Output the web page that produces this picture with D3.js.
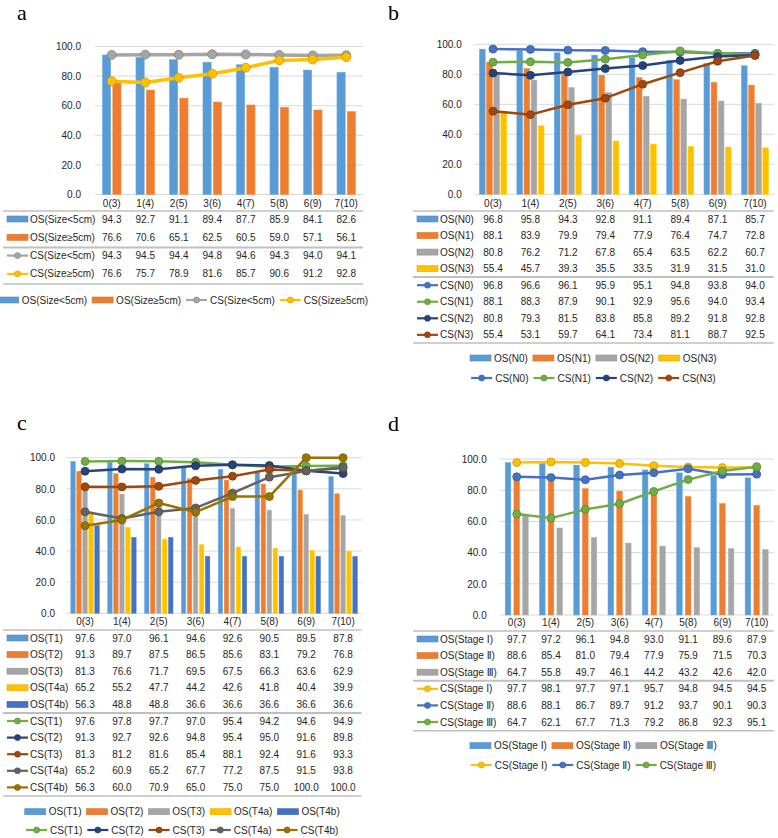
<!DOCTYPE html>
<html><head><meta charset="utf-8">
<script src="https://cdn.jsdelivr.net/npm/d3@7"></script>
<style>
body{margin:0;background:#fff}
text{font-family:"Liberation Sans","DejaVu Sans",sans-serif;fill:#262626}
.lab{font-family:"Liberation Serif","DejaVu Serif",serif;fill:#000}
</style>
</head><body>
<svg id="chart" width="778" height="838"></svg>
<script>
// ---------- DATA ----------
const categories = ["0(3)","1(4)","2(5)","3(6)","4(7)","5(8)","6(9)","7(10)"];
const yTicks = [0,20,40,60,80,100];

// panel a
const osSizeLt5 = [94.3,92.7,91.1,89.4,87.7,85.9,84.1,82.6];
const osSizeGe5 = [76.6,70.6,65.1,62.5,60.5,59.0,57.1,56.1];
const csSizeLt5 = [94.3,94.5,94.4,94.8,94.6,94.3,94.0,94.1];
const csSizeGe5 = [76.6,75.7,78.9,81.6,85.7,90.6,91.2,92.8];

// panel b
const osN0 = [96.8,95.8,94.3,92.8,91.1,89.4,87.1,85.7];
const osN1 = [88.1,83.9,79.9,79.4,77.9,76.4,74.7,72.8];
const osN2 = [80.8,76.2,71.2,67.8,65.4,63.5,62.2,60.7];
const osN3 = [55.4,45.7,39.3,35.5,33.5,31.9,31.5,31.0];
const csN0 = [96.8,96.6,96.1,95.9,95.1,94.8,93.8,94.0];
const csN1 = [88.1,88.3,87.9,90.1,92.9,95.6,94.0,93.4];
const csN2 = [80.8,79.3,81.5,83.8,85.8,89.2,91.8,92.8];
const csN3 = [55.4,53.1,59.7,64.1,73.4,81.1,88.7,92.5];

// panel c
const osT1  = [97.6,97.0,96.1,94.6,92.6,90.5,89.5,87.8];
const osT2  = [91.3,89.7,87.5,86.5,85.6,83.1,79.2,76.8];
const osT3  = [81.3,76.6,71.7,69.5,67.5,66.3,63.6,62.9];
const osT4a = [65.2,55.2,47.7,44.2,42.6,41.8,40.4,39.9];
const osT4b = [56.3,48.8,48.8,36.6,36.6,36.6,36.6,36.6];
const csT1  = [97.6,97.8,97.7,97.0,95.4,94.2,94.6,94.9];
const csT2  = [91.3,92.7,92.6,94.8,95.4,95.0,91.6,89.8];
const csT3  = [81.3,81.2,81.6,85.4,88.1,92.4,91.6,93.3];
const csT4a = [65.2,60.9,65.2,67.7,77.2,87.5,91.5,93.8];
const csT4b = [56.3,60.0,70.9,65.0,75.0,75.0,100.0,100.0];

// panel d
const osStage1 = [97.7,97.2,96.1,94.8,93.0,91.1,89.6,87.9];
const osStage2 = [88.6,85.4,81.0,79.4,77.9,75.9,71.5,70.3];
const osStage3 = [64.7,55.8,49.7,46.1,44.2,43.2,42.6,42.0];
const csStage1 = [97.7,98.1,97.7,97.1,95.7,94.8,94.5,94.5];
const csStage2 = [88.6,88.1,86.7,89.7,91.2,93.7,90.1,90.3];
const csStage3 = [64.7,62.1,67.7,71.3,79.2,86.8,92.3,95.1];

// ---------- STYLE / LAYOUT ----------
const C = {blue:"#5B9BD5", orange:"#ED7D31", gray:"#A5A5A5", yellow:"#FFC000",
  dblue:"#4472C4", green:"#70AD47", navy:"#264478", dred:"#9E480E", dgray:"#636363", olive:"#997300"};

const panels = [
 {label:"a", lx:17, ly:20, x0:95, x1:363, yTop:46.5, yBot:194.5, tickX:81, catY:203.5,
  tblL:3, rowY0:219, rowDy:18.3, seps:[211,247.5,284], iconX:7, textX:30, legendY:[300], legendOneRow:true,
  groupW:18.6, pad:0.2, lineW:3.5, r:4.5,
  bars:[{n:"OS(Size<5cm)",v:osSizeLt5,c:C.blue},{n:"OS(Size≥5cm)",v:osSizeGe5,c:C.orange}],
  lines:[{n:"CS(Size<5cm)",v:csSizeLt5,c:C.gray},{n:"CS(Size≥5cm)",v:csSizeGe5,c:C.yellow}]},
 {label:"b", lx:388, ly:20, x0:474.3, x1:773.7, yTop:44.3, yBot:194.3, tickX:461.7, catY:203.5,
  tblL:413, rowY0:219, rowDy:16.55, seps:[211,277,343], iconX:417, textX:440, legendY:[358,378],
  groupW:27.2, pad:0.19, lineW:2.5, r:4,
  bars:[{n:"OS(N0)",v:osN0,c:C.blue},{n:"OS(N1)",v:osN1,c:C.orange},{n:"OS(N2)",v:osN2,c:C.gray},{n:"OS(N3)",v:osN3,c:C.yellow}],
  lines:[{n:"CS(N0)",v:csN0,c:C.dblue},{n:"CS(N1)",v:csN1,c:C.green},{n:"CS(N2)",v:csN2,c:C.navy},{n:"CS(N3)",v:csN3,c:C.dred}]},
 {label:"c", lx:17, ly:430, x0:66.6, x1:361.5, yTop:457.7, yBot:613.3, tickX:55, catY:621.7,
  tblL:3, rowY0:638, rowDy:16.6, seps:[630,713,796], iconX:7, textX:30, legendY:[811.7,830],
  groupW:28.5, pad:0.25, lineW:2.5, r:4,
  bars:[{n:"OS(T1)",v:osT1,c:C.blue},{n:"OS(T2)",v:osT2,c:C.orange},{n:"OS(T3)",v:osT3,c:C.gray},{n:"OS(T4a)",v:osT4a,c:C.yellow},{n:"OS(T4b)",v:osT4b,c:C.dblue}],
  lines:[{n:"CS(T1)",v:csT1,c:C.green},{n:"CS(T2)",v:csT2,c:C.navy},{n:"CS(T3)",v:csT3,c:C.dred},{n:"CS(T4a)",v:csT4a,c:C.dgray},{n:"CS(T4b)",v:csT4b,c:C.olive}]},
 {label:"d", lx:388, ly:431, x0:499.6, x1:773.8, yTop:459, yBot:615, tickX:486.7, catY:622.7,
  tblL:413, rowY0:639, rowDy:16.6, seps:[631,680.7,730.7], iconX:417, textX:440, legendY:[745.7,765],
  groupW:23.1, pad:0.35, lineW:2.5, r:4,
  bars:[{n:"OS(Stage Ⅰ)",v:osStage1,c:C.blue},{n:"OS(Stage Ⅱ)",v:osStage2,c:C.orange},{n:"OS(Stage Ⅲ)",v:osStage3,c:C.gray}],
  lines:[{n:"CS(Stage Ⅰ)",v:csStage1,c:C.yellow},{n:"CS(Stage Ⅱ)",v:csStage2,c:C.dblue},{n:"CS(Stage Ⅲ)",v:csStage3,c:C.green}]}
];

const FS = 10;
const svg = d3.select("#chart");
svg.append("rect").attr("width",778).attr("height",838).attr("fill","#fff");

function drawIcon(g, s, kind, x, y){
  if(kind==="bar"){
    g.append("rect").attr("x",x).attr("y",y-3).attr("width",21).attr("height",6)
      .attr("fill",s.c).attr("stroke",d3.color(s.c).darker(0.3)).attr("stroke-width",0.6);
  } else {
    g.append("line").attr("x1",x).attr("x2",x+21).attr("y1",y).attr("y2",y)
      .attr("stroke",s.c).attr("stroke-width",2.2);
    g.append("circle").attr("cx",x+10.5).attr("cy",y).attr("r",3)
      .attr("fill",s.c).attr("stroke",d3.color(s.c).darker(0.5)).attr("stroke-width",0.7);
  }
}

panels.forEach(p=>{
  const g = svg.append("g");
  const x = d3.scaleBand().domain(categories).range([p.x0,p.x1]).padding(0);
  const cx = c => x(c) + x.bandwidth()/2;
  const y = d3.scaleLinear().domain([0,100]).range([p.yBot,p.yTop]);

  g.append("text").attr("class","lab").attr("x",p.lx).attr("y",p.ly)
    .style("font-size","22px").text(p.label);

  // gridlines
  g.append("g").selectAll("line").data(yTicks).join("line")
    .attr("x1",p.x0).attr("x2",p.x1).attr("y1",d=>y(d)).attr("y2",d=>y(d))
    .attr("stroke","#D9D9D9").attr("stroke-width",1);

  // y axis labels
  const ya = g.append("g").attr("transform",`translate(${p.tickX},0)`)
    .call(d3.axisLeft(y).tickValues(yTicks).tickFormat(d3.format(".1f")).tickSize(0).tickPadding(0));
  ya.select(".domain").remove();
  ya.selectAll("text").style("font-size",FS+"px").attr("font-family",null).attr("fill","#262626");

  // bars
  const inner = d3.scaleBand().domain(p.bars.map(s=>s.n)).range([-p.groupW/2,p.groupW/2]).paddingInner(p.pad);
  p.bars.forEach(s=>{
    g.append("g").selectAll("rect").data(s.v).join("rect")
      .attr("x",(d,i)=>cx(categories[i])+inner(s.n))
      .attr("width",inner.bandwidth())
      .attr("y",d=>y(d)).attr("height",d=>y(0)-y(d))
      .attr("fill",s.c).attr("stroke",d3.color(s.c).brighter(0.3)).attr("stroke-width",0.5);
  });

  // lines
  p.lines.forEach(s=>{
    const line = d3.line().x((d,i)=>cx(categories[i])).y(d=>y(d));
    g.append("path").datum(s.v).attr("d",line).attr("fill","none")
      .attr("stroke",s.c).attr("stroke-width",p.lineW).attr("stroke-linejoin","round");
    g.append("g").selectAll("circle").data(s.v).join("circle")
      .attr("cx",(d,i)=>cx(categories[i])).attr("cy",d=>y(d)).attr("r",p.r)
      .attr("fill",s.c).attr("stroke",d3.color(s.c).darker(0.6)).attr("stroke-width",0.8);
  });

  // category axis (table header)
  const xa = g.append("g").attr("transform",`translate(0,${p.catY})`)
    .call(d3.axisBottom(x).tickSize(0).tickPadding(0));
  xa.select(".domain").remove();
  xa.selectAll("text").attr("y",0).attr("dy","0.35em").style("font-size",FS+"px").attr("font-family",null).attr("fill","#262626");

  // table separators
  g.append("g").selectAll("line").data(p.seps).join("line")
    .attr("x1",p.tblL).attr("x2",p.x1).attr("y1",d=>d).attr("y2",d=>d)
    .attr("stroke","#BFBFBF").attr("stroke-width",(d,i)=>i===1?2:1.5);

  // table rows
  const rows = p.bars.map(s=>({s,kind:"bar"})).concat(p.lines.map(s=>({s,kind:"line"})));
  rows.forEach((r,ri)=>{
    const ry = p.rowY0 + ri*p.rowDy;
    drawIcon(g, r.s, r.kind, p.iconX, ry);
    g.append("text").attr("x",p.textX).attr("y",ry).attr("dy","0.35em").style("font-size",FS+"px").text(r.s.n);
    g.append("g").selectAll("text").data(r.s.v).join("text")
      .attr("x",(d,i)=>cx(categories[i])).attr("y",ry).attr("dy","0.35em")
      .attr("text-anchor","middle").style("font-size",FS+"px").text(d=>d3.format(".1f")(d));
  });

  // legend
  const legRows = p.legendOneRow ? [rows] : [rows.filter(r=>r.kind==="bar"), rows.filter(r=>r.kind==="line")];
  const center = (p.tblL + p.x1)/2;
  legRows.forEach((lr,li)=>{
    const ly = p.legendY[li];
    const lg = g.append("g");
    let xx = 0;
    lr.forEach(r=>{
      drawIcon(lg, r.s, r.kind, xx, ly);
      const t = lg.append("text").attr("x",xx+24).attr("y",ly).attr("dy","0.35em").style("font-size",FS+"px").text(r.s.n);
      xx += 24 + t.node().getComputedTextLength() + 5;
    });
    const w = xx - 5;
    lg.attr("transform",`translate(${center - w/2},0)`);
  });
});
</script>
</body></html>
